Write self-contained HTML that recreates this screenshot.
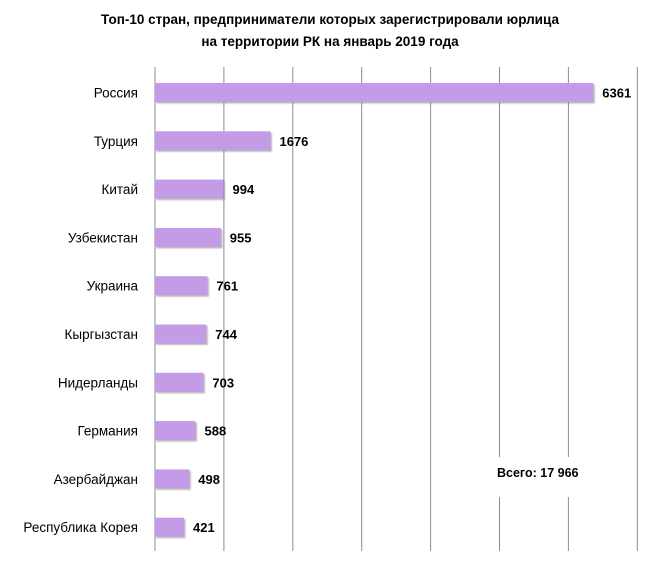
<!DOCTYPE html>
<html><head><meta charset="utf-8"><style>
body{margin:0;background:#fff;}
svg{display:block;font-family:"Liberation Sans",sans-serif;}
</style></head><body>
<svg id="chart" width="648" height="565">
<defs><filter id="sh" x="-5%" y="-20%" width="115%" height="160%"><feDropShadow dx="1.5" dy="1.5" stdDeviation="0.8" flood-color="#888" flood-opacity="0.6"/></filter></defs>
<text x="330" y="24" text-anchor="middle" font-size="13.5" font-weight="bold">Топ-10 стран, предприниматели которых зарегистрировали юрлица</text>
<text x="330" y="46" text-anchor="middle" font-size="13.5" font-weight="bold">на территории РК на январь 2019 года</text>
<g id="grid"></g>
<g id="bars"></g>
<rect x="494" y="457" width="98" height="40" fill="#fff"/>
<text x="497" y="477" font-size="12.5" font-weight="bold">Всего: 17 966</text>
</svg>
<script>
const categories=["Россия","Турция","Китай","Узбекистан","Украина","Кыргызстан","Нидерланды","Германия","Азербайджан","Республика Корея"];
const values=[6361,1676,994,955,761,744,703,588,498,421];
const gridTicks=[0,1000,2000,3000,4000,5000,6000,7000];
const NS="http://www.w3.org/2000/svg";
const x=v=>155+v*0.0689;
const yc=i=>92.5+i*48.3;
const grid=document.getElementById('grid'),bars=document.getElementById('bars');
gridTicks.forEach(t=>{
 const l=document.createElementNS(NS,'line');
 
 
 l.setAttribute('x1',x(t));l.setAttribute('x2',x(t));l.setAttribute('y1',67);l.setAttribute('y2',551);
 l.setAttribute('stroke','#8c8c8c');l.setAttribute('stroke-width','1');
 grid.appendChild(l);
});
values.forEach((v,i)=>{
 const r=document.createElementNS(NS,'rect');
 
 
 r.setAttribute('x',x(0));r.setAttribute('y',yc(i)-9.5);r.setAttribute('width',x(v)-x(0));r.setAttribute('height',19);
 r.setAttribute('fill','#c39be6');r.setAttribute('filter','url(#sh)');
 bars.appendChild(r);
 const t=document.createElementNS(NS,'text');
 
 
 t.setAttribute('x',x(v)+9);t.setAttribute('y',yc(i)+5);t.setAttribute('font-size','13');t.setAttribute('font-weight','bold');
 t.textContent=v;bars.appendChild(t);
 const c=document.createElementNS(NS,'text');
 
 
 c.setAttribute('x',138);c.setAttribute('y',yc(i)+5);c.setAttribute('font-size','13.5');c.setAttribute('text-anchor','end');
 c.textContent=categories[i];bars.appendChild(c);
});
</script>
</body></html>
